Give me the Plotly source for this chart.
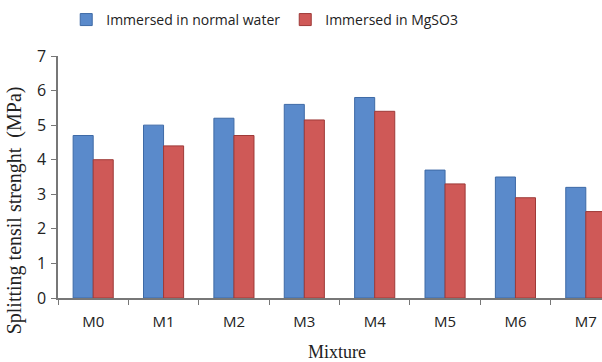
import plotly.graph_objects as go

categories = ["M0", "M1", "M2", "M3", "M4", "M5", "M6", "M7"]
normal_water = [4.7, 5.0, 5.2, 5.6, 5.8, 3.7, 3.5, 3.2]
mgso3 = [4.0, 4.4, 4.7, 5.15, 5.4, 3.3, 2.9, 2.5]
yticks = [0, 1, 2, 3, 4, 5, 6, 7]

fig = go.Figure()
fig.add_trace(go.Bar(x=categories, y=normal_water, name="Immersed in normal water",
                     marker=dict(color="#5A8ACB", line=dict(color="#3E6AA6", width=1))))
fig.add_trace(go.Bar(x=categories, y=mgso3, name="Immersed in MgSO3",
                     marker=dict(color="#CF5957", line=dict(color="#9E3A38", width=1))))

serif = "Liberation Serif, Times New Roman, serif"
fig.update_layout(
    width=602, height=362,
    margin=dict(l=58, r=0, t=56, b=64),
    paper_bgcolor="white", plot_bgcolor="white",
    barmode="group", bargap=0.43, bargroupgap=0,
    font=dict(family="Open Sans, Liberation Sans, sans-serif", color="#222", size=14),
    legend=dict(orientation="h", x=0.38, xanchor="center", y=1.215, yanchor="top",
                font=dict(size=14, color="#222"), itemwidth=30, traceorder="normal"),
    showlegend=True,
    annotations=[
        dict(text="Splitting tensil strenght  (MPa)", xref="paper", yref="paper",
             x=-0.081, y=0.362, textangle=-90, showarrow=False,
             xanchor="center", yanchor="middle",
             font=dict(family=serif, size=20, color="#222")),
        dict(text="Mixture", xref="paper", yref="paper",
             x=0.513, y=-0.223, showarrow=False, xanchor="center", yanchor="middle",
             font=dict(family=serif, size=18, color="#222")),
    ],
)
fig.update_xaxes(
    range=[-0.5, 7.23], showline=True, linecolor="#777", linewidth=1.5,
    ticks="outside", tickson="boundaries", ticklen=5, tickcolor="#777",
    showgrid=False, tickfont=dict(size=15, color="#222"), ticklabelstandoff=9,
)
fig.update_yaxes(
    range=[0, 7], tickvals=yticks, showline=True, linecolor="#777", linewidth=1.5,
    ticks="outside", ticklen=5, tickcolor="#777", showgrid=False, zeroline=False,
    tickfont=dict(size=16, color="#222"), ticklabelstandoff=2,
)

fig.write_html("out.html")
